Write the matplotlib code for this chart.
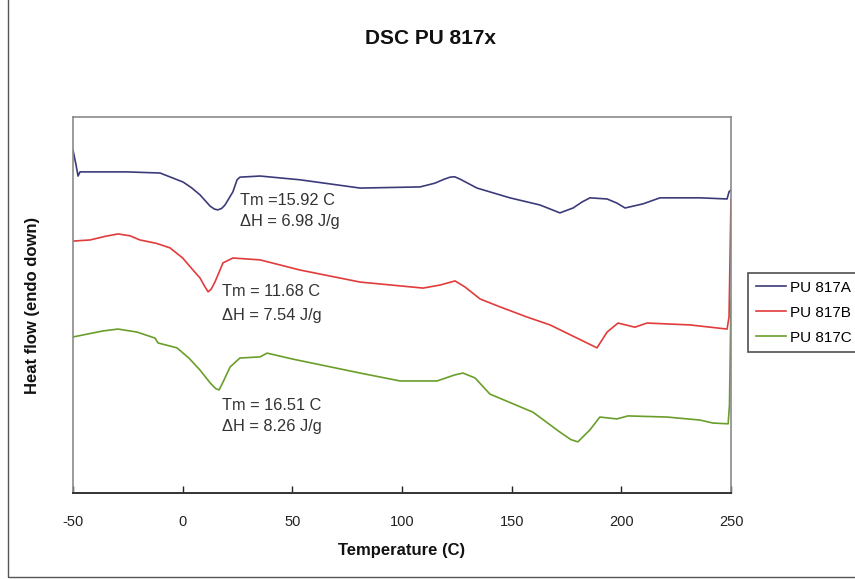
import matplotlib
matplotlib.use("Agg")
import matplotlib.pyplot as plt
from matplotlib.patches import Rectangle

plt.rcParams['font.family'] = ['Liberation Sans', 'DejaVu Sans']
plt.rcParams['axes.unicode_minus'] = False

# ---- data (temperature in C, heat flow in arbitrary units) ----
temp_a = [-50.0, -48.6, -47.7, -46.8, -25.4, -10.3, 0.2, 4.0, 7.9, 12.5,
          14.5, 16.1, 17.8, 19.3, 22.9, 24.8, 26.1, 35.3, 53.5, 80.9,
          108.2, 115.0, 119.0, 121.9, 124.0, 126.4, 134.2, 149.2, 162.9, 172.0,
          178.0, 182.1, 185.7, 193.5, 198.0, 201.7, 209.9, 217.6, 235.9, 248.2,
          249.1, 250.0]
hf_a = [9.12, 8.72, 8.43, 8.54, 8.54, 8.51, 8.27, 8.12, 7.93, 7.63,
        7.55, 7.53, 7.57, 7.66, 8.01, 8.33, 8.40, 8.43, 8.33, 8.11,
        8.14, 8.24, 8.34, 8.40, 8.41, 8.35, 8.11, 7.85, 7.66, 7.45,
        7.58, 7.74, 7.85, 7.82, 7.71, 7.58, 7.69, 7.85, 7.85, 7.82,
        8.01, 8.06]

temp_b = [-50.0, -42.2, -35.0, -29.5, -24.0, -19.5, -12.0, -5.8, 0.0, 4.7,
          7.9, 10.0, 11.6, 13.0, 14.7, 18.4, 22.9, 35.3, 53.5, 80.9,
          109.6, 117.3, 124.2, 128.7, 135.6, 144.7, 157.0, 167.5, 179.8, 188.9,
          193.5, 198.5, 206.2, 211.7, 231.3, 248.2, 249.1, 250.0]
hf_b = [6.70, 6.73, 6.83, 6.89, 6.84, 6.73, 6.64, 6.52, 6.25, 5.93,
        5.72, 5.50, 5.35, 5.42, 5.61, 6.12, 6.25, 6.20, 5.93, 5.61,
        5.45, 5.53, 5.64, 5.48, 5.16, 4.95, 4.68, 4.47, 4.12, 3.86,
        4.28, 4.52, 4.41, 4.52, 4.47, 4.36, 4.68, 7.82]

temp_c = [-50.0, -36.3, -29.5, -20.8, -12.6, -11.2, -2.6, 3.0, 7.9, 12.5,
          15.0, 16.6, 18.4, 21.6, 26.1, 35.3, 38.5, 50.3, 80.9, 99.1,
          116.0, 124.0, 127.8, 133.3, 140.1, 159.7, 172.0, 177.0, 180.2, 185.7,
          190.2, 198.0, 203.0, 220.8, 235.9, 241.8, 248.7, 249.3, 250.0]
hf_c = [4.15, 4.31, 4.36, 4.28, 4.12, 3.99, 3.86, 3.58, 3.27, 2.93,
        2.78, 2.74, 2.95, 3.35, 3.59, 3.62, 3.72, 3.56, 3.19, 2.98,
        2.98, 3.14, 3.19, 3.06, 2.63, 2.15, 1.62, 1.42, 1.36, 1.68,
        2.02, 1.97, 2.05, 2.02, 1.94, 1.86, 1.84, 2.34, 5.13]

series_names = ['PU 817A', 'PU 817B', 'PU 817C']
series_colors = ['#3c3b7a', '#e23b3b', '#6a9e2a']

x_ticks = [-50, 0, 50, 100, 150, 200, 250]
x_tick_labels = ['-50', '0', '50', '100', '150', '200', '250']

annotations = [
    (26.1, 7.79, 7.21, 'Tm =15.92 C', '\u0394H = 6.98 J/g'),
    (17.9, 5.35, 4.73, 'Tm = 11.68 C', '\u0394H = 7.54 J/g'),
    (17.9, 2.34, 1.76, 'Tm = 16.51 C', '\u0394H = 8.26 J/g'),
]

# ---- figure ----
W, H = 855, 579
fig = plt.figure(figsize=(W / 100, H / 100), dpi=100)
fig.patch.set_facecolor('white')

# outer border of the chart area
fig.patches.append(Rectangle((8 / W, 2 / H), 1.2, 1.5, transform=fig.transFigure,
                             fill=False, edgecolor='#555555', linewidth=1.0))

ax = fig.add_axes([73 / W, 1 - 493 / H, (731 - 73) / W, (493 - 117) / H])

for xs, ys, name, col in zip([temp_a, temp_b, temp_c], [hf_a, hf_b, hf_c],
                             series_names, series_colors):
    ax.plot(xs, ys, color=col, linewidth=1.2, label=name)

ax.set_xlim(-50, 250)
ax.set_ylim(0, 10)
ax.set_xticks(x_ticks)
ax.set_xticklabels(x_tick_labels)
ax.tick_params(axis='x', direction='in', length=5, width=1, pad=16,
               labelsize=10.5, colors='#222222')
ax.set_yticks([])

for s in ['left', 'top', 'right']:
    ax.spines[s].set_color('#8a8a8a')
    ax.spines[s].set_linewidth(1.2)
ax.spines['bottom'].set_color('#333333')
ax.spines['bottom'].set_linewidth(1.4)

ax.set_xlabel('Temperature (C)', fontsize=12, fontweight='bold', color='#111111')
ax.xaxis.set_label_coords(0.5, -0.133)
ax.set_ylabel('Heat flow (endo down)', fontsize=12, fontweight='bold', color='#111111')
ax.yaxis.set_label_coords(-0.050, 0.5)

for tx, y1, y2, s1, s2 in annotations:
    ax.text(tx, y1, s1, fontsize=11.8, color='#333333', va='center', ha='left')
    ax.text(tx, y2, s2, fontsize=11.8, color='#333333', va='center', ha='left')

fig.text(0.503, 1 - 38 / H, 'DSC PU 817x', fontsize=15, fontweight='bold',
         ha='center', va='center', color='#111111')

leg = fig.legend(loc='upper left', bbox_to_anchor=(748 / W, 1 - 273 / H),
                 bbox_transform=fig.transFigure, fontsize=11, frameon=True,
                 fancybox=False, edgecolor='#222222', handlelength=2.0,
                 handletextpad=0.25, labelspacing=0.72, borderpad=0.5,
                 borderaxespad=0)
leg.get_frame().set_linewidth(1.2)

fig.savefig('out.png', dpi=100)
